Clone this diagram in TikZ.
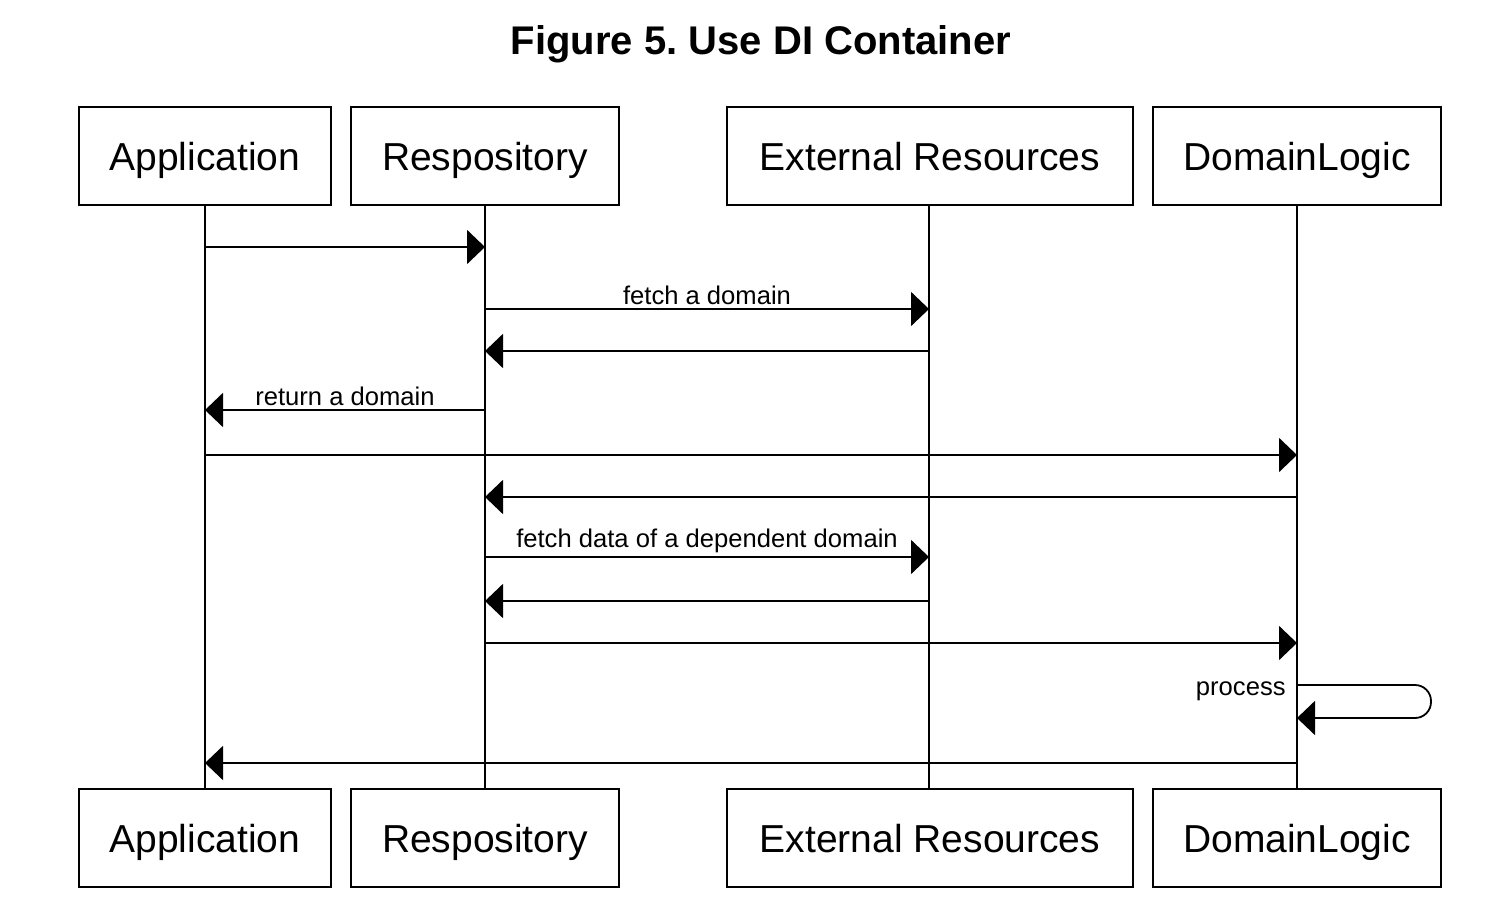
\documentclass[tikz,border=0pt]{standalone}
\usepackage{fontspec}
\setmainfont{Liberation Sans}
\usetikzlibrary{arrows.meta}
\frenchspacing

\tikzset{
  actor/.style={draw, line width=1pt, minimum height=49pt, inner sep=0pt, text height=14pt, text depth=0pt, font=\fontsize{19.5}{23}\selectfont},
  msg/.style={line width=0.9pt, -{Triangle[length=9pt,width=17pt]}},
  lbl/.style={font=\fontsize{12.8}{15}\selectfont, inner sep=1.5pt}
}

\begin{document}
\begin{tikzpicture}[x=0.5pt,y=-0.5pt]
            \useasboundingbox (0,0) rectangle (1510,910);
            \node[font=\fontsize{20}{24}\selectfont\bfseries] at (761,44) (title) {Figure 5. Use DI Container};
            % top row
            \node[actor, minimum width=126pt] at (205,156) (app) {Application};
            \node[actor, minimum width=134pt] at (485,156) (repo) {Respository};
            \node[actor, minimum width=203pt] at (930,156) (ext) {External Resources};
            \node[actor, minimum width=144pt] at (1297,156) (dom) {DomainLogic};
            % bottom row
            \node[actor, minimum width=126pt] at (205,838) (appB) {Application};
            \node[actor, minimum width=134pt] at (485,838) (repoB) {Respository};
            \node[actor, minimum width=203pt] at (930,838) (extB) {External Resources};
            \node[actor, minimum width=144pt] at (1297,838) (domB) {DomainLogic};
            % lifelines
            \draw[line width=0.9pt] (app) to (appB);
            \draw[line width=0.9pt] (repo) to (repoB);
            \draw[line width=0.9pt] ([xshift=-0.5pt]ext.south) to ([xshift=-0.5pt]extB.north);
            \draw[line width=0.9pt] (dom) to (domB);
            % message heights
            \coordinate (m1) at (0,247);
            \coordinate (m2) at (0,309);
            \coordinate (m3) at (0,351);
            \coordinate (m4) at (0,410);
            \coordinate (m5) at (0,455);
            \coordinate (m6) at (0,497);
            \coordinate (m7) at (0,557);
            \coordinate (m8) at (0,601);
            \coordinate (m9) at (0,643);
            \coordinate (p1) at (0,685);
            \coordinate (p2) at (0,718);
            \coordinate (turn) at (1431,718);
            \coordinate (m10) at (0,763);
            % messages
            \draw[msg] (app |- m1) to (repo |- m1);
            \draw[msg] (repo |- m2) to node[lbl, above] {fetch a domain} ([xshift=-0.5pt]ext |- m2);
            \draw[msg] ([xshift=-0.5pt]ext |- m3) to (repo |- m3);
            \draw[msg] (repo |- m4) to node[lbl, above] {return a domain} (app |- m4);
            \draw[msg] (app |- m5) to (dom |- m5);
            \draw[msg] (dom |- m6) to (repo |- m6);
            \draw[msg] (repo |- m7) to node[lbl, above] {fetch data of a dependent domain} ([xshift=-0.5pt]ext |- m7);
            \draw[msg] ([xshift=-0.5pt]ext |- m8) to (repo |- m8);
            \draw[msg] (repo |- m9) to (dom |- m9);
            \draw[msg, rounded corners=8pt] (dom |- p1) -| (turn) -- (dom |- p2);
            \node[lbl, anchor=east] at ([xshift=-4pt,yshift=-3pt]dom |- p1) (proc) {process};
            \draw[msg] (dom |- m10) to (app |- m10);
        \end{tikzpicture}
\end{document}
